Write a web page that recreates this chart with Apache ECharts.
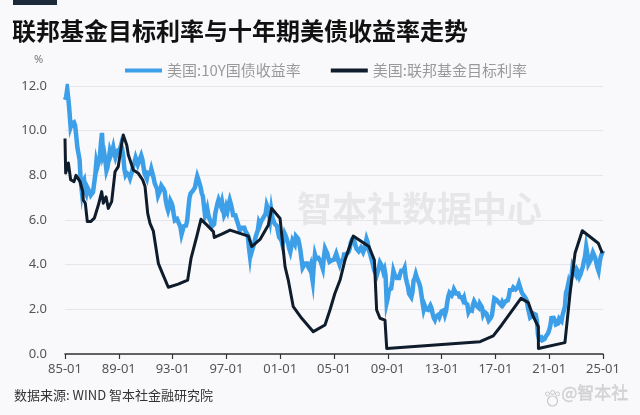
<!DOCTYPE html>
<html><head><meta charset="utf-8">
<script src="https://cdn.jsdelivr.net/npm/echarts@6/dist/echarts.min.js"></script>
<style>html,body{margin:0;padding:0;background:#f9f9fb}#c{width:640px;height:415px}</style>
</head><body><div id="c"></div>
<script>
// 10Y Treasury yield, monthly from 1985-01
var tenY_1985_1989 = [
11.38,11.51,11.86,11.43,10.85,10.16,10.31,10.33,10.37,10.24,9.78,9.26,
9.19,8.70,7.78,7.30,7.71,7.80,7.30,7.17,7.45,7.43,7.25,7.11,
7.08,7.25,7.25,8.02,8.61,8.40,8.45,8.76,9.42,9.90,8.86,8.99,
8.67,8.21,8.37,8.72,9.09,8.92,9.06,9.26,8.98,8.80,8.96,9.11,
9.09,9.17,9.36,9.18,8.86,8.28,8.02,8.11,8.19,8.01,7.87,7.84];
var tenY_1990_1999 = [
8.21,8.47,8.59,8.79,8.76,8.48,8.47,8.75,8.89,8.72,8.39,8.08,
8.09,7.85,8.11,8.04,8.07,8.28,8.27,7.90,7.65,7.53,7.42,7.09,
7.03,7.34,7.54,7.48,7.39,7.26,6.84,6.59,6.42,6.59,6.87,6.77,
6.60,6.26,5.98,5.97,6.04,5.96,5.81,5.68,5.36,5.33,5.72,5.77,
5.75,5.97,6.48,6.97,7.18,7.10,7.30,7.24,7.46,7.74,7.96,7.81,
7.78,7.47,7.20,7.06,6.63,6.17,6.28,6.49,6.20,6.04,5.93,5.71,
5.65,5.81,6.27,6.51,6.74,6.91,6.87,6.64,6.83,6.53,6.20,6.30,
6.58,6.42,6.69,6.89,6.71,6.49,6.22,6.30,6.21,6.03,5.88,5.81,
5.54,5.57,5.65,5.64,5.65,5.50,5.46,5.34,4.81,4.40,4.83,4.65,
4.72,5.00,5.23,5.18,5.54,5.90,5.79,5.94,5.92,6.11,6.03,6.28];
var tenY_2000_2009 = [
6.66,6.52,6.26,5.99,6.44,6.10,6.05,5.83,5.80,5.74,5.72,5.24,
5.16,5.10,4.89,5.14,5.39,5.28,5.24,4.97,4.73,4.57,4.65,5.09,
5.04,4.91,5.28,5.21,5.16,4.93,4.65,4.26,3.87,3.94,4.05,4.03,
4.05,3.90,3.81,3.96,3.57,3.25,3.98,4.45,4.27,4.29,4.30,4.27,
4.15,4.08,3.83,4.35,4.72,4.73,4.50,4.28,4.13,4.10,4.19,4.23,
4.22,4.17,4.50,4.34,4.14,4.00,4.18,4.26,4.20,4.46,4.54,4.47,
4.42,4.57,4.72,4.99,5.11,5.11,5.09,4.88,4.72,4.73,4.60,4.56,
4.76,4.72,4.56,4.69,4.75,5.15,5.00,4.67,4.52,4.53,4.15,4.10,
3.74,3.74,3.51,3.68,3.88,4.10,4.01,3.89,3.69,3.81,3.53,2.30,
2.52,2.87,2.82,2.93,3.29,3.72,3.56,3.59,3.40,3.39,3.40,3.59];
var tenY_2010_2019 = [
3.73,3.69,3.73,3.85,3.42,3.20,3.01,2.70,2.65,2.54,2.76,3.29,
3.39,3.58,3.41,3.46,3.17,3.00,3.00,2.30,1.98,2.15,2.01,1.98,
1.97,1.97,2.17,2.05,1.80,1.62,1.53,1.68,1.72,1.75,1.65,1.72,
1.91,1.98,1.96,1.76,1.93,2.30,2.58,2.74,2.81,2.62,2.72,2.90,
2.86,2.71,2.72,2.71,2.56,2.60,2.54,2.42,2.53,2.30,2.33,2.21,
1.88,1.98,2.04,1.94,2.20,2.36,2.32,2.17,2.17,2.07,2.26,2.24,
2.09,1.78,1.89,1.81,1.81,1.64,1.50,1.56,1.63,1.76,2.14,2.49,
2.43,2.42,2.48,2.30,2.30,2.19,2.32,2.21,2.20,2.36,2.35,2.40,
2.58,2.86,2.84,2.87,2.98,2.91,2.89,2.89,3.00,3.15,3.12,2.83,
2.71,2.68,2.57,2.53,2.40,2.07,2.06,1.63,1.70,1.71,1.81,1.86];
var tenY_2020_2025 = [
1.76,1.50,0.87,0.66,0.67,0.73,0.62,0.65,0.68,0.79,0.87,0.93,
1.08,1.26,1.61,1.64,1.62,1.52,1.32,1.28,1.37,1.58,1.56,1.47,
1.76,1.93,2.13,2.75,2.90,3.14,2.90,2.90,3.52,3.98,3.89,3.62,
3.53,3.75,3.66,3.46,3.57,3.75,3.90,4.17,4.38,4.80,4.50,4.02,
4.06,4.21,4.21,4.54,4.48,4.31,4.25,3.87,3.72,4.10,4.36,4.39,
4.63];

// Fed funds target: time (years since 1985-01) and value
var fedT = [0.00,0.05,0.25,0.42,0.67,0.82,1.12,1.32,1.36,1.51,1.66,1.91,2.18,2.48,2.73,2.85,3.05,3.22,3.47,3.72,3.96,4.22,4.33,4.46,4.59,4.71,4.96,5.08,5.45,5.78,5.95,6.15,6.32,6.57,6.94,7.19,7.68,8.42,9.12,9.37,9.79,10.11,10.54,11.03,11.10,11.65,12.27,13.01,13.63,13.88,14.50,15.12,15.37,15.99,16.36,16.60,16.97,17.60,18.46,19.33,19.70,20.07,20.45,20.82,21.43,22.60,23.00,23.17,23.42,23.79,23.92,30.86,31.84,32.47,33.09,33.90,34.45,34.82,35.19,35.20,37.17,37.55,37.92,38.46,39.65,39.95];
var fedV = [9.65,8.10,8.55,7.80,7.72,8.00,7.72,7.27,6.90,6.75,5.93,5.93,6.08,6.67,7.27,6.75,7.04,6.52,6.82,8.16,8.39,9.43,9.81,9.85,9.36,8.91,8.46,8.24,8.09,7.79,7.50,6.30,5.85,5.50,4.06,3.69,2.99,3.13,3.31,4.28,5.25,6.03,5.78,5.48,5.22,5.37,5.55,5.40,5.28,4.81,5.13,5.78,6.52,6.07,3.91,3.31,2.12,1.60,1.00,1.30,1.97,2.72,3.31,4.21,5.28,4.81,4.21,1.97,1.60,1.52,0.25,0.55,0.81,1.30,1.82,2.49,2.30,1.67,1.22,0.25,0.51,2.72,4.51,5.52,4.96,4.51];

var startYear = 1985;
var xTickStep = 4;
var seriesNames = ['美国:10Y国债收益率', '美国:联邦基金目标利率'];
var titleText = '联邦基金目标利率与十年期美债收益率走势';
var sourceText = '数据来源: WIND 智本社金融研究院';

var tenY = [].concat(tenY_1985_1989, tenY_1990_1999, tenY_2000_2009, tenY_2010_2019, tenY_2020_2025);
var tenYData = tenY.map(function (v, i) { return [i / 12, v]; });
var fedData = fedT.map(function (t, i) { return [t, fedV[i]]; });

var chart = echarts.init(document.getElementById('c'), null, {renderer: 'canvas'});
chart.setOption({
  backgroundColor: '#f9f9fb',
  animation: false,
  graphic: [
    {type: 'rect', left: 13, top: 0, shape: {width: 44, height: 5}, style: {fill: '#1c2a3a'}},
    {type: 'text', left: 12, top: 19, style: {text: titleText, fill: '#111', font: 'bold 24px "Noto Sans CJK SC"'}},
    {type: 'text', left: 34, top: 54, style: {text: '%', fill: '#777', font: '11px "Noto Sans"'}},
    {type: 'text', left: 14, top: 389, style: {text: sourceText, fill: '#333', font: '13px "Noto Sans CJK SC"'}},
    {type: 'group', left: 543, top: 388, children: [
      {type: 'circle', shape: {cx: 8, cy: 10, r: 5}, style: {fill: 'none', stroke: '#c8c8c8', lineWidth: 1.2}},
      {type: 'circle', shape: {cx: 3, cy: 3, r: 2}, style: {fill: 'none', stroke: '#c8c8c8', lineWidth: 1}},
      {type: 'circle', shape: {cx: 8, cy: 1.5, r: 2}, style: {fill: 'none', stroke: '#c8c8c8', lineWidth: 1}},
      {type: 'circle', shape: {cx: 13, cy: 3, r: 2}, style: {fill: 'none', stroke: '#c8c8c8', lineWidth: 1}}
    ]},
    {type: 'text', left: 561, top: 384, style: {text: '@智本社', fill: '#d2d2d2', font: '17px "Noto Sans CJK SC"', stroke: '#c0c0c0', lineWidth: 0.3}},
    {type: 'text', left: 297, top: 191, z: 0, style: {text: '智本社数据中心', fill: 'rgba(0,0,0,0.07)', font: 'bold 35px "Noto Sans CJK SC"'}}
  ],
  legend: {
    left: 120, top: 58,
    itemWidth: 37, itemHeight: 4, itemGap: 30,
    icon: 'rect',
    textStyle: {color: '#999', fontSize: 15, fontFamily: 'Noto Sans CJK SC'},
    data: seriesNames
  },
  grid: {left: 65, right: 37, top: 86, bottom: 61},
  xAxis: {
    type: 'value', min: 0, max: 40, interval: xTickStep,
    axisLine: {show: true, lineStyle: {color: '#333', width: 1.5}},
    axisTick: {show: true, length: 5, lineStyle: {color: '#333', width: 1.2}},
    splitLine: {show: false},
    axisLabel: {
      color: '#555', fontSize: 13, fontFamily: 'Noto Sans', margin: 9,
      formatter: function (v) { var y = (startYear + v) % 100; return (y < 10 ? '0' + y : '' + y) + '-01'; }
    }
  },
  yAxis: {
    type: 'value', min: 0, max: 12, interval: 2,
    axisLine: {show: false}, axisTick: {show: false},
    splitLine: {lineStyle: {color: '#e6e6ea', width: 1}},
    axisLabel: {color: '#555', fontSize: 13, fontFamily: 'Noto Sans', margin: 18, formatter: function (v) { return v.toFixed(1); }}
  },
  series: [
    {name: seriesNames[0], type: 'line', data: tenYData, showSymbol: false, z: 2,
     lineStyle: {color: '#3d9fe8', width: 4.5, join: 'miter'}, itemStyle: {color: '#3d9fe8'}},
    {name: seriesNames[1], type: 'line', data: fedData, showSymbol: false, z: 3,
     lineStyle: {color: '#0e1c2c', width: 3, join: 'round'}, itemStyle: {color: '#0e1c2c'}}
  ]
});
</script></body></html>
